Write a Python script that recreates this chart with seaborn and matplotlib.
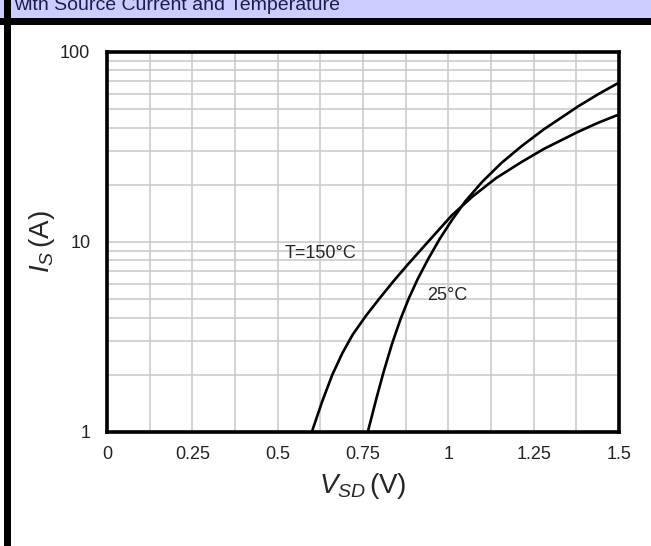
import numpy as np
import pandas as pd
import matplotlib
matplotlib.use("Agg")
import matplotlib.pyplot as plt
from matplotlib.patches import Rectangle
from matplotlib.ticker import FixedLocator, LogLocator, NullFormatter
import seaborn as sns

# values (V_SD in volts, I_S in amps)
v_150 = [0.60, 0.63, 0.66, 0.69, 0.72, 0.76, 0.80, 0.84, 0.88, 0.94, 1.01, 1.07,
         1.14, 1.215, 1.28, 1.38, 1.44, 1.50]
i_150 = [1.0, 1.44, 2.0, 2.61, 3.26, 4.12, 5.09, 6.24, 7.57, 10.0, 13.8, 17.3,
         21.7, 26.4, 30.9, 38.0, 42.5, 46.9]

v_25 = [0.764, 0.79, 0.81, 0.835, 0.86, 0.885, 0.91, 0.94, 0.975, 1.01, 1.05, 1.10,
        1.156, 1.215, 1.28, 1.38, 1.44, 1.50]
i_25 = [1.0, 1.52, 2.06, 2.91, 3.93, 5.09, 6.37, 8.08, 10.4, 13.0, 16.4, 20.8,
        26.1, 32.0, 39.2, 51.7, 60.1, 69.0]

x_ticks = [0, 0.25, 0.5, 0.75, 1, 1.25, 1.5]
x_labels = ["0", "0.25", "0.5", "0.75", "1", "1.25", "1.5"]
y_ticks = [1, 10, 100]
y_labels = ["1", "10", "100"]

df = pd.concat([
    pd.DataFrame({"V": v_150, "I": i_150, "T": "150"}),
    pd.DataFrame({"V": v_25, "I": i_25, "T": "25"}),
])

sns.set_style("white")
plt.rcParams["font.family"] = ["Liberation Sans", "DejaVu Sans"]
plt.rcParams["mathtext.fontset"] = "custom"
plt.rcParams["mathtext.rm"] = "Liberation Sans"
plt.rcParams["mathtext.it"] = "Liberation Sans:italic"

fig = plt.figure(figsize=(6.51, 5.46), dpi=100)
W, H = 651, 546

# header band, black rules
fig.patches.append(Rectangle((0, 1 - 18 / H), 1, 18 / H, transform=fig.transFigure,
                             facecolor="#ccccff", edgecolor="none", zorder=0))
fig.patches.append(Rectangle((0, 1 - 25 / H), 1, 7.5 / H, transform=fig.transFigure,
                             facecolor="black", edgecolor="none", zorder=1))
fig.patches.append(Rectangle((4 / W, 0), 7 / W, 1, transform=fig.transFigure,
                             facecolor="black", edgecolor="none", zorder=1))
fig.text(14 / W, 1 - 10 / H, "with Source Current and Temperature", fontsize=14,
         color="#1c1c50", va="baseline", ha="left")

ax = fig.add_axes([107 / W, 1 - 432 / H, 512 / W, 380 / H])
sns.lineplot(data=df, x="V", y="I", hue="T", palette=["black", "black"],
             sort=False, estimator=None, legend=False, linewidth=1.9, ax=ax)

ax.set_yscale("log")
ax.set_xlim(0, 1.5)
ax.set_ylim(1, 100)

ax.xaxis.set_major_locator(FixedLocator(x_ticks))
ax.set_xticklabels(x_labels)
ax.xaxis.set_minor_locator(FixedLocator(np.arange(0.125, 1.5, 0.25)))
ax.yaxis.set_major_locator(FixedLocator(y_ticks))
ax.set_yticklabels(y_labels)
ax.yaxis.set_minor_locator(LogLocator(base=10, subs=np.arange(2, 10)))
ax.yaxis.set_minor_formatter(NullFormatter())

ax.grid(True, which="both", color="#c8c8c8", linewidth=1.1)
ax.set_axisbelow(True)
ax.tick_params(which="both", length=0, labelsize=13, colors="#222222")
ax.tick_params(axis="y", pad=12)
ax.tick_params(axis="x", pad=10)
for s in ax.spines.values():
    s.set_color("black")
    s.set_linewidth(2.6)

ax.set_xlabel(r"$V_{SD}\,$(V)", fontsize=20, labelpad=6)
ax.set_ylabel(r"$I_{S}\,$(A)", fontsize=20, labelpad=2)

ax.text(0.52, 8.75, "T=150°C", fontsize=13, va="center", ha="left")
ax.text(0.937, 5.26, "25°C", fontsize=13, va="center", ha="left")

fig.savefig("out.png", dpi=100)
